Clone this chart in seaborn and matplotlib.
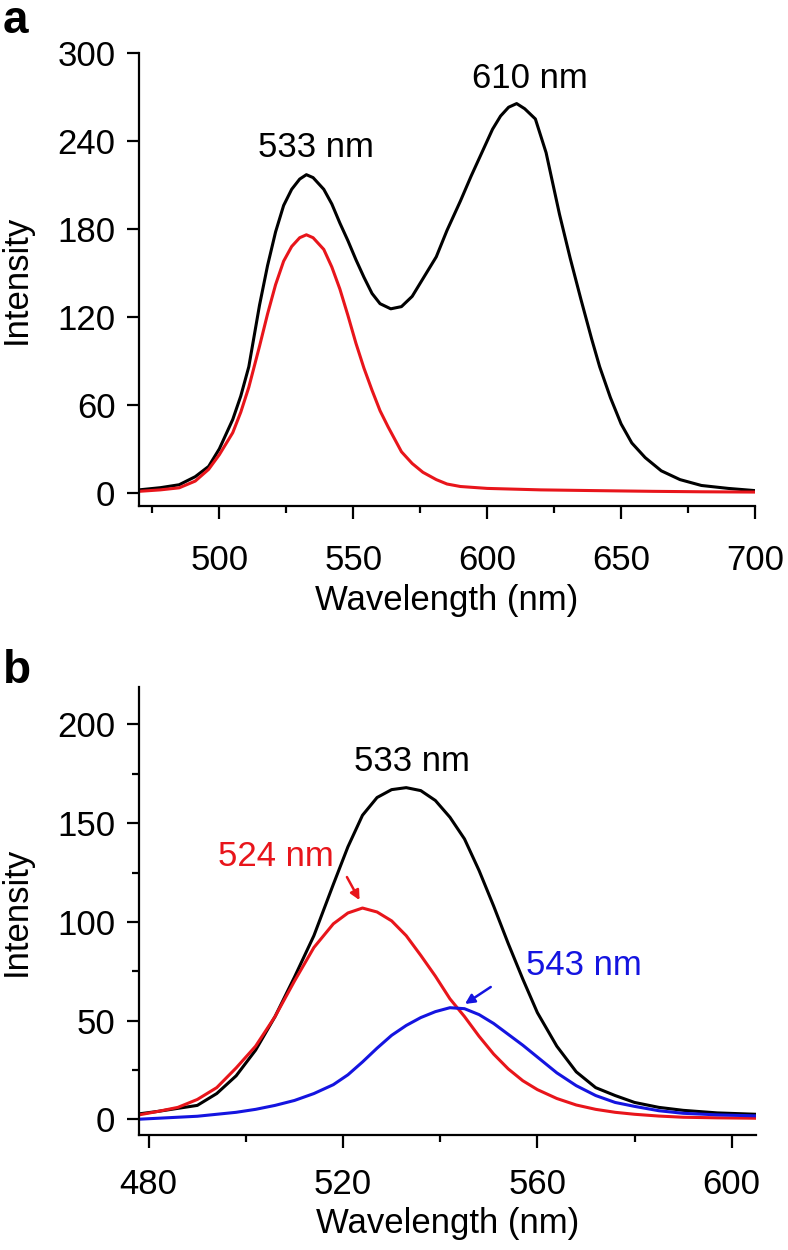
import numpy as np
import pandas as pd
import matplotlib
matplotlib.use("Agg")
import matplotlib.pyplot as plt
import seaborn as sns
from matplotlib.ticker import MultipleLocator

# ---------------- data ----------------
# Panel a
wl_a_black = [470, 478, 485, 491, 496, 500, 505, 508, 511, 515, 518, 521, 524, 527, 530,
              532.5, 535, 539, 542, 545, 548, 551, 554, 557, 560, 564, 568, 572, 576, 581,
              585, 590, 594, 599, 602, 605, 608, 611, 614, 618, 622, 627, 631, 635, 639,
              642, 646, 650, 654, 659, 665, 672, 680, 690, 700]
black_a = [2, 3.5, 5.5, 11, 18, 30, 50, 66, 86, 128, 155, 178, 196, 207, 214,
           217, 215, 207, 197, 184, 172, 159, 147, 136, 129, 125.5, 127, 134, 146, 161,
           179, 199, 216, 236, 248, 257, 263, 265.5, 262, 255, 232, 190, 160, 132, 105,
           86, 65, 47, 34, 24, 15, 9, 5, 3, 1.5]
wl_a_red = [470, 478, 485, 491, 496, 500, 505, 508, 511, 515, 518, 521, 524, 527, 530,
            532.5, 535, 539, 542, 545, 548, 551, 554, 557, 560, 563, 568, 572, 576, 581,
            585, 590, 600, 610, 620, 640, 662, 680, 700]
red_a = [1, 2, 3.4, 8, 16, 26, 41, 55, 72, 100, 122, 142, 158, 168, 174,
         176, 174, 166, 154, 139, 121, 102, 85, 70, 56, 45, 28, 20, 14, 9,
         6, 4.3, 3, 2.5, 2, 1.5, 1, 0.7, 0.5]

# Panel b
wl_b = [478, 482, 486, 490, 494, 498, 502, 506, 510, 514, 518, 521, 524, 527, 530,
        533, 536, 539, 542, 545, 548, 551, 554, 557, 560, 564, 568, 572, 576, 580,
        585, 590, 597, 605]
black_b = [2.7, 4, 5.5, 7, 13, 22, 35, 52, 72, 93, 119, 138, 154, 163, 167,
           168, 166.5, 161.5, 153, 142, 126, 108, 89, 71, 54, 37, 24, 16, 12, 8.5,
           6, 4.5, 3.2, 2.5]
red_b = [2.2, 4, 6, 10, 16, 26, 37, 52, 70, 87, 99, 104.5, 107, 105, 100.5,
         93, 83, 72.5, 61, 52, 42, 33, 25.5, 19.5, 15, 10.5, 7.2, 5, 3.5, 2.5,
         1.6, 1, 0.7, 0.5]
blue_b = [0, 0.5, 1, 1.5, 2.5, 3.5, 5, 7, 9.5, 13, 17.5, 22.5, 29, 36, 42.5,
          47.5, 51.5, 54.5, 56.5, 56, 53, 48.5, 43, 37.5, 31.5, 23.5, 17, 12, 8.5, 6.5,
          4.3, 3, 2.2, 1.7]

xticks_a = [500, 550, 600, 650, 700]
yticks_a = [0, 60, 120, 180, 240, 300]
xticks_b = [480, 520, 560, 600]
yticks_b = [0, 50, 100, 150, 200]

RED = "#e8151b"
BLUE = "#1414e0"

# ---------------- styling ----------------
sns.set_style("ticks")
plt.rcParams['font.family'] = ['Liberation Sans', 'DejaVu Sans']
plt.rcParams['axes.linewidth'] = 1.6
for k in ("text.color", "axes.labelcolor", "xtick.color", "ytick.color", "axes.edgecolor"):
    plt.rcParams[k] = "black"
FS = 25

fig = plt.figure(figsize=(7.88, 12.5), dpi=100)
ax_a = fig.add_axes([139/788, 1 - 506/1250, (755-139)/788, (506-53)/1250])
ax_b = fig.add_axes([139/788, 1 - 1135/1250, (756-139)/788, (1135-687)/1250])

df_a = pd.DataFrame({"wl": wl_a_black + wl_a_red, "I": black_a + red_a,
                     "s": ["black"] * len(wl_a_black) + ["red"] * len(wl_a_red)})
sns.lineplot(data=df_a, x="wl", y="I", hue="s",
             palette={"black": "black", "red": RED},
             linewidth=2.2, legend=False, ax=ax_a)

df_b = pd.DataFrame({"wl": wl_b * 3, "I": black_b + red_b + blue_b,
                     "s": ["black"] * len(wl_b) + ["red"] * len(wl_b) + ["blue"] * len(wl_b)})
sns.lineplot(data=df_b, x="wl", y="I", hue="s",
             palette={"black": "black", "red": RED, "blue": BLUE},
             linewidth=2.2, legend=False, ax=ax_b)

for ax in (ax_a, ax_b):
    sns.despine(ax=ax)
    ax.tick_params(axis="both", which="major", direction="out", length=9, width=1.6,
                   labelsize=FS, color="black", labelcolor="black")
    ax.tick_params(axis="y", which="major", pad=8)
    ax.tick_params(axis="both", which="minor", direction="out", length=5, width=1.6)
    ax.set_facecolor("white")
ax_a.tick_params(axis="x", which="major", pad=18)
ax_b.tick_params(axis="x", which="major", pad=15)

ax_a.set_xlim(470, 700)
ax_a.set_ylim(-9, 300)
ax_a.set_xticks(xticks_a)
ax_a.set_yticks(yticks_a)
ax_a.xaxis.set_minor_locator(MultipleLocator(25))

ax_b.set_xlim(478, 605)
ax_b.set_ylim(-8, 219)
ax_b.set_xticks(xticks_b)
ax_b.set_yticks(yticks_b)
ax_b.xaxis.set_minor_locator(MultipleLocator(20))
ax_b.yaxis.set_minor_locator(MultipleLocator(25))

for ax, xlab_y in ((ax_a, -0.172), (ax_b, -0.16)):
    ax.set_xlabel("Wavelength (nm)", fontsize=FS)
    ax.set_ylabel("Intensity", fontsize=FS)
    ax.xaxis.set_label_coords(0.5, xlab_y)
    ax.yaxis.set_label_coords(-0.172, 0.5)

# annotations panel a
ax_a.text(536, 235.5, "533 nm", fontsize=FS, ha="center", va="center")
ax_a.text(616, 282.6, "610 nm", fontsize=FS, ha="center", va="center")

# annotations panel b
ax_b.text(534.2, 181.5, "533 nm", fontsize=FS, ha="center", va="center")
ax_b.text(506.1, 132.9, "524 nm", fontsize=FS, ha="center", va="center", color=RED)
ax_b.text(569.6, 77.7, "543 nm", fontsize=FS, ha="center", va="center", color=BLUE)
ax_b.annotate("", xy=(523.4, 111), xytext=(520.8, 122.7),
              arrowprops=dict(arrowstyle="-|>", color=RED, lw=1.8,
                              mutation_scale=14, shrinkA=0, shrinkB=0))
ax_b.annotate("", xy=(545.1, 58.4), xytext=(550.4, 67),
              arrowprops=dict(arrowstyle="-|>", color=BLUE, lw=1.8,
                              mutation_scale=14, shrinkA=0, shrinkB=0))

# panel letters
fig.text(3/788, 1 - 33/1250, "a", fontsize=33, fontweight="bold", ha="left", va="baseline")
fig.text(3/788, 1 - 683/1250, "b", fontsize=33, fontweight="bold", ha="left", va="baseline")

fig.savefig("out.png", dpi=100, facecolor="white")
